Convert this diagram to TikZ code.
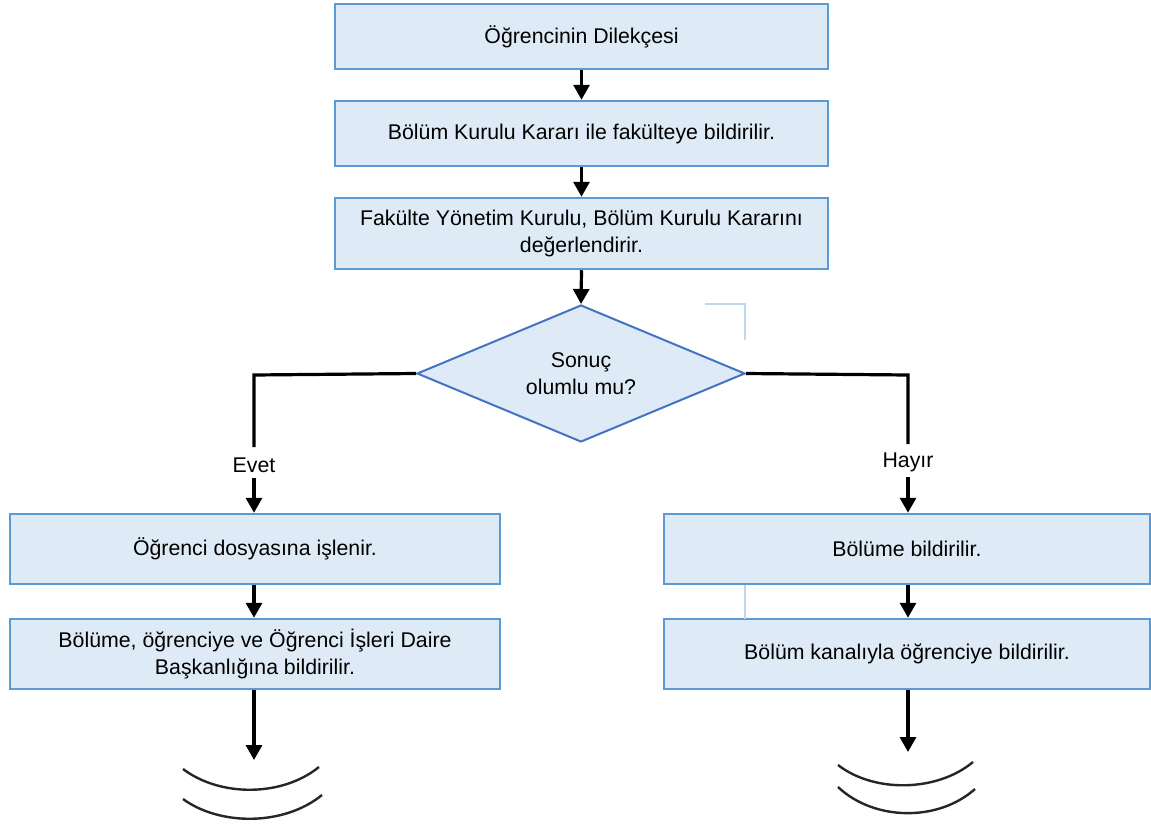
\documentclass[tikz,border=0pt]{standalone}
\usepackage{fontspec}
\setmainfont{Liberation Sans}
\usetikzlibrary{shapes.geometric,arrows.meta}
\definecolor{boxfill}{HTML}{DEEBF7}
\definecolor{boxdraw}{HTML}{5B9BD5}
\definecolor{diadraw}{HTML}{4472C4}
\definecolor{stray}{HTML}{BDD7EE}
\tikzset{
  txt/.style={font=\fontsize{21.3}{27}\selectfont},
  box/.style={draw=boxdraw,fill=boxfill,line width=2.5pt,minimum height=#1,inner sep=0pt,align=center,txt},
  box/.default=65pt,
  conn/.style={line width=3.2pt,black},
  arr/.style={conn,-{Triangle[length=15pt,width=16pt]}},
  arc/.style={line width=2.4pt,black!85},
}
\begin{document}
\begin{tikzpicture}[x=1pt,y=-1pt]
\useasboundingbox (0,0) rectangle (1151,827);
\fill[white] (0,0) rectangle (1151,827);
% top column
\node[box=65pt,minimum width=493pt] (b1) at (581.5,36.5) {Öğrencinin Dilekçesi};
\node[box=65pt,minimum width=493pt] (b2) at (581.5,133.5) {Bölüm Kurulu Kararı ile fakülteye bildirilir.};
\node[box=71pt,minimum width=493pt] (b3) at (581.5,233.5) {Fakülte Yönetim Kurulu, Bölüm Kurulu Kararını\\değerlendirir.};
\node[diamond,draw=diadraw,fill=boxfill,line width=2pt,minimum width=328pt,minimum height=137pt,inner sep=0pt,aspect=2.4,align=center,txt] (d) at (581,373.5) {Sonuç\\olumlu mu?};
% left column
\node[box=70pt,minimum width=490pt] (l1) at (255,549) {Öğrenci dosyasına işlenir.};
\node[box=70pt,minimum width=490pt] (l2) at (255,654) {Bölüme, öğrenciye ve Öğrenci İşleri Daire\\Başkanlığına bildirilir.};
% right column
\node[box=70pt,minimum width=486pt] (r1) at (907,549) {Bölüme bildirilir.};
\node[box=70pt,minimum width=486pt] (r2) at (907,654) {Bölüm kanalıyla öğrenciye bildirilir.};
% labels
\node[txt,inner sep=0pt] (evet) at (254,465) {Evet};
\node[txt,inner sep=0pt] (hayir) at (908,462) {Hayır};
% stray light lines
\coordinate (s1) at (705,304);
\coordinate (s2) at (745,304);
\coordinate (s3) at (745,340);
\draw[stray,line width=2.5pt] (s1) -- (s2) -- (s3);
\coordinate (s4) at (745,585);
\coordinate (s5) at (745,619);
\draw[stray,line width=2.5pt] (s4) -- (s5);
% connectors
\draw[arr] (b1.south) -- (b2.north);
\draw[arr] (b2.south) -- (b3.north);
\draw[arr] (b3.south) -- (d.north);
\coordinate (lc) at (254,375);
\coordinate (rc) at (908,375);
\coordinate (lend) at (254,447);
\coordinate (rend) at (908,444);
\coordinate (lstart) at (254,478);
\coordinate (rstart) at (908,477);
\draw[conn] (d.west) -- (lc) -- (lend);
\draw[conn] (d.east) -- (rc) -- (rend);
\draw[arr] (lstart) -- (lstart |- l1.north);
\draw[arr] (rstart) -- (rstart |- r1.north);
\draw[arr] (l1.south -| evet) -- (l2.north -| evet);
\draw[arr] (r1.south -| hayir) -- (r2.north -| hayir);
\coordinate (le) at (254,760);
\coordinate (re) at (908,752);
\draw[arr] (l2.south -| le) -- (le);
\draw[arr] (r2.south -| re) -- (re);
% end arcs
\draw[arc] (183,769) .. controls (220,797) and (282,797) .. (319,767);
\draw[arc] (183,799) .. controls (220,826) and (284,826) .. (322,795);
\draw[arc] (838,765) .. controls (874,793) and (937,792) .. (973,762);
\draw[arc] (838,787) .. controls (874,821) and (938,822) .. (975,789);
\end{tikzpicture}
\end{document}
